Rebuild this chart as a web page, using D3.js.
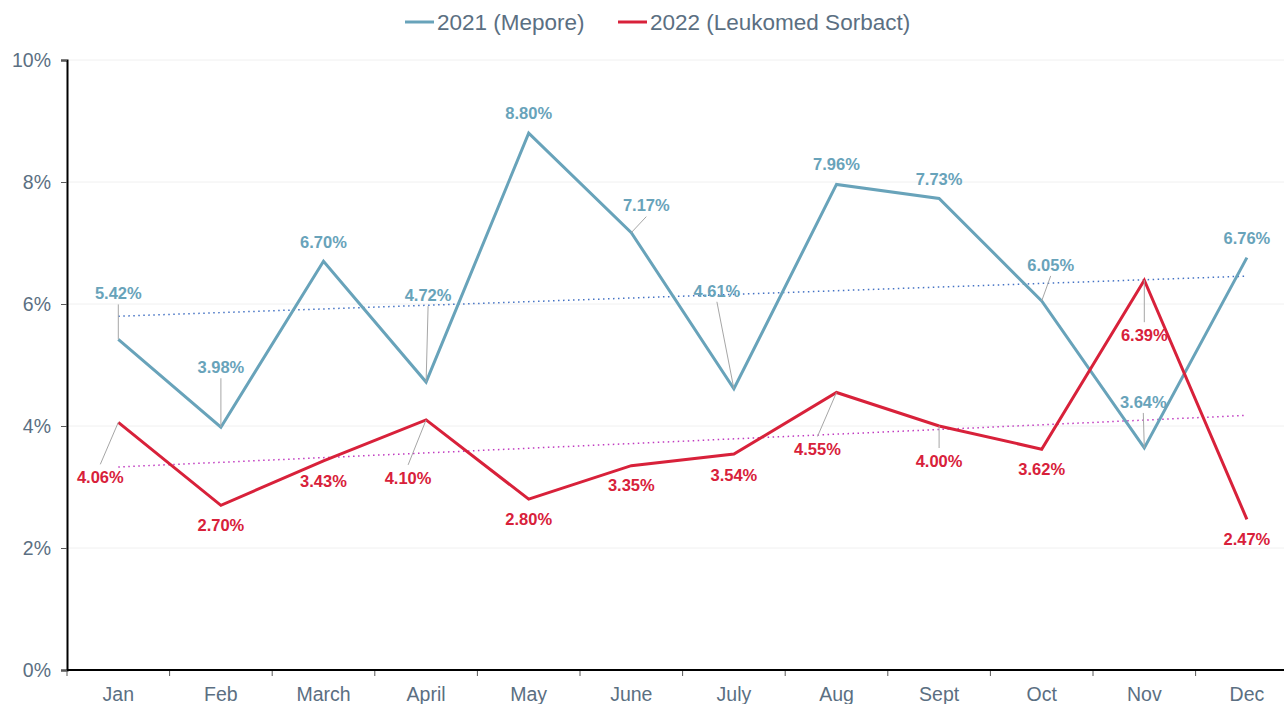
<!DOCTYPE html>
<html>
<head>
<meta charset="utf-8">
<script src="https://cdn.jsdelivr.net/npm/d3@7"></script>
<style>
  body { margin: 0; background: #fff; }
  svg { display: block; font-family: "Liberation Sans", Arial, sans-serif; }
  .grid line { stroke: #f0f0f0; stroke-width: 1; }
  .axis text { fill: #5b6f82; font-size: 19.5px; }
  .lbl { font-size: 16.5px; font-weight: bold; text-anchor: middle; }
  .leader { stroke: #a6a6a6; stroke-width: 1; }
</style>
</head>
<body>
<div id="chart"></div>
<script>
const months = ['Jan', 'Feb', 'March', 'April', 'May', 'June', 'July', 'Aug', 'Sept', 'Oct', 'Nov', 'Dec'];
const mepore2021 = [5.42, 3.98, 6.70, 4.72, 8.80, 7.17, 4.61, 7.96, 7.73, 6.05, 3.64, 6.76];
const leukomed2022 = [4.06, 2.70, 3.43, 4.10, 2.80, 3.35, 3.54, 4.55, 4.00, 3.62, 6.39, 2.47];
const yTicks = [0, 2, 4, 6, 8, 10];

// label placement: [dx, dy, leader?] relative to each point (layout only)
const blueLabelPos = [[0, -46, 1], [0, -60, 1], [0, -19, 0], [2, -87, 1], [0, -20, 0], [15, -27, 1],
  [-17, -98, 1], [0, -20, 0], [0, -19, 0], [9, -36, 1], [-1, -46, 1], [0, -19, 0]];
const redLabelPos = [[-18, 55, 1], [0, 20, 0], [0, 20, 0], [-18, 58, 1], [0, 20, 0], [0, 20, 0],
  [0, 21, 0], [-19, 57, 1], [0, 35, 1], [0, 20, 0], [0, 55, 1], [0, 20, 0]];

const W = 1284, H = 704;
const margin = { top: 60, left: 67, bottom: 34 };
const band = 102.6;

const svg = d3.select('#chart').append('svg')
  .attr('width', W).attr('height', H);

const x = d3.scaleBand()
  .domain(months)
  .range([margin.left, margin.left + band * months.length]);

const y = d3.scaleLinear()
  .domain([0, 10])
  .range([H - margin.bottom, margin.top]);

const cx = m => x(m) + x.bandwidth() / 2;

// gridlines
svg.append('g').attr('class', 'grid')
  .selectAll('line')
  .data(yTicks.filter(t => t > 0))
  .enter().append('line')
  .attr('x1', margin.left).attr('x2', W)
  .attr('y1', d => y(d)).attr('y2', d => y(d));

// axes
const yAxis = d3.axisLeft(y)
  .tickValues(yTicks)
  .tickFormat(d => d + '%')
  .tickSize(6)
  .tickPadding(10);

const gy = svg.append('g').attr('class', 'axis')
  .attr('transform', `translate(${margin.left},0)`)
  .call(yAxis);
gy.select('.domain').attr('stroke', '#000').attr('stroke-width', 2);
gy.selectAll('.tick line').attr('stroke', '#595959');

const xAxis = d3.axisBottom(x).tickSize(0).tickPadding(17);
const gx = svg.append('g').attr('class', 'axis')
  .attr('transform', `translate(0,${y(0)})`)
  .call(xAxis);
gx.select('.domain').remove();
gx.append('g').selectAll('line')
  .data(months)
  .enter().append('line')
  .attr('x1', d => x(d)).attr('x2', d => x(d))
  .attr('y1', 0).attr('y2', 6)
  .attr('stroke', '#595959');
gx.append('line')
  .attr('x1', margin.left).attr('x2', W)
  .attr('stroke', '#000').attr('stroke-width', 2);

// trendlines (least squares fit of each series)
function trend(vals) {
  const n = vals.length;
  const mx = (n - 1) / 2;
  const my = d3.mean(vals);
  let num = 0, den = 0;
  vals.forEach((v, i) => { num += (i - mx) * (v - my); den += (i - mx) * (i - mx); });
  const b = num / den;
  return [0, n - 1].map(i => ({ i: i, v: my + b * (i - mx) }));
}

const series = [
  { name: '2021 (Mepore)', vals: mepore2021, color: '#68a3ba', trendColor: '#4472c4', pos: blueLabelPos },
  { name: '2022 (Leukomed Sorbact)', vals: leukomed2022, color: '#d8213a', trendColor: '#c03ac0', pos: redLabelPos }
];

const line = d3.line()
  .x(d => cx(months[d.i]))
  .y(d => y(d.v));

series.forEach(s => {
  svg.append('path')
    .datum(trend(s.vals))
    .attr('fill', 'none')
    .attr('stroke', s.trendColor)
    .attr('stroke-width', 1.5)
    .attr('stroke-dasharray', '1.5,3.5')
    .attr('d', line);
});

series.forEach(s => {
  svg.append('path')
    .datum(s.vals.map((v, i) => ({ i, v })))
    .attr('fill', 'none')
    .attr('stroke', s.color)
    .attr('stroke-width', 3)
    .attr('stroke-linejoin', 'miter')
    .attr('d', line);
});

// data labels
series.forEach(s => {
  const g = svg.append('g');
  s.vals.forEach((v, i) => {
    const px = cx(months[i]), py = y(v);
    const [dx, dy, lead] = s.pos[i];
    const lx = px + dx, ly = py + dy;
    if (lead) {
      const sy = dy < 0 ? ly + 11 : ly - 13;
      g.append('line').attr('class', 'leader')
        .attr('x1', lx).attr('y1', sy)
        .attr('x2', px).attr('y2', py);
    }
    g.append('text').attr('class', 'lbl')
      .attr('x', lx).attr('y', ly)
      .attr('dy', '0.35em')
      .attr('fill', s.color)
      .text(v.toFixed(2) + '%');
  });
});

// legend
const legendX = [405, 618];
series.forEach((s, i) => {
  const g = svg.append('g').attr('transform', `translate(${legendX[i]},22)`);
  g.append('line').attr('x1', 0).attr('x2', 29)
    .attr('stroke', s.color).attr('stroke-width', 3);
  g.append('text').attr('x', 32).attr('dy', '0.35em')
    .attr('fill', '#5b6f82').style('font-size', '22.5px')
    .text(s.name);
});
</script>
</body>
</html>
